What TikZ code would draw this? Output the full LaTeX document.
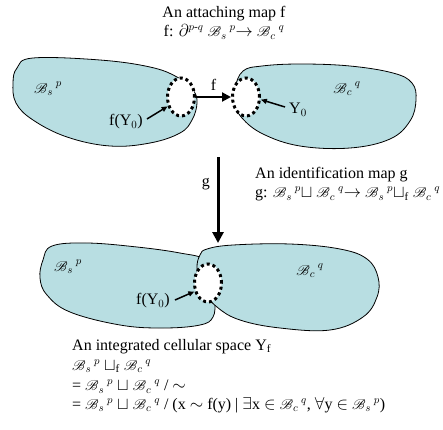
\documentclass[tikz,border=0pt]{standalone}
\usepackage{amsmath, amssymb}
\usepackage{mathrsfs}
\usepackage{graphicx}
\usepackage{fontspec}
\setmainfont{Liberation Serif}
\usepackage{tikz}
\usetikzlibrary{arrows.meta, positioning, shapes.geometric}
\definecolor{CellFill}{HTML}{B8DEE2}
\newcommand{\cB}{\scalebox{0.82}{$\mathscr{B}$}}
\newcommand{\Bsp}{\cB$_s\,{}^p$}
\newcommand{\Bcq}{\cB$_c\,{}^q$}

\begin{document}
\begin{tikzpicture}[
        x=1pt, y=-1pt,
        font=\fontsize{16}{18}\selectfont,
        cell/.style={fill=CellFill, draw=black, line width=0.8pt},
        dotring/.style={ellipse, draw, fill=white, inner sep=0pt, line width=3pt,
          dash pattern=on 3pt off 3pt, minimum width=27pt, minimum height=38pt},
        mapf/.style={-{Triangle[length=9pt, width=9pt]}, line width=2pt},
        mapg/.style={-{Triangle[length=11pt, width=11pt]}, line width=3pt},
        lead/.style={-{Triangle[length=6pt, width=5pt]}, line width=1.5pt},
        lbl/.style={inner sep=0pt, align=left},
      ]
        \useasboundingbox (0,0) rectangle (443,429);
        % ---- attaching map (top) ----
        \node[lbl, align=center] (ttl) at (224,23) {An attaching map f\\[1pt]
          f: $\partial^{p\text{-}q}$ \Bsp$\rightarrow$ \Bcq};
        % ---- B_s^p and B_c^q, apart ----
        \draw[cell] plot[smooth cycle, tension=0.65] coordinates {(33,58) (100,60) (150,67) (177,77)
          (193,90) (197,103) (192,120) (180,133) (150,143) (110,146) (67,137) (33,120) (16,103) (13,83) (17,68)};
        \draw[cell] plot[smooth cycle, tension=0.65] coordinates {(243,71) (262,66) (300,64) (350,66)
          (393,73) (412,83) (416,100) (410,121) (390,139) (350,148) (300,146) (263,134) (242,118)
          (235,103) (235,88)};
        \node[dotring] (ringa) at (181,97) {};
        \node[dotring] (ringb) at (246,97) {};
        \node[lbl] (bsa) at (48,89) {\Bsp};
        \node[lbl] (bca) at (347,89) {\Bcq};
        \draw[mapf] (ringa.east) -- (ringb.west) node[midway, above=2pt] (fa) {f};
        \node[lbl] (fya) at (126,122) {f(Y$_0$)};
        \draw[lead] (fya.east) ++(4,-3) -- (ringa.215);
        \node[lbl] (ya) at (298,110) {Y$_0$};
        \draw[lead] (ya.west) ++(-4,-3) -- (ringb.-10);
        % ---- identification map g ----
        \coordinate (gtop) at (218,157);
        \coordinate (gtip) at (218,243);
        \draw[mapg] (gtop) -- (gtip);
        \node[lbl, left=8pt] (gl) at (218,184) {g};
        \node[lbl, anchor=west] (idm) at (255,184) {An identification map g\\[1pt]
          g: \Bsp$\sqcup$ \Bcq$\rightarrow$ \Bsp$\sqcup_{\text{f}}$ \Bcq};
        % ---- integrated cellular space ----
        \draw[cell] plot[smooth cycle, tension=0.65] coordinates {(52,246) (87,243) (137,247) (180,253)
          (205,260) (214,280) (215,300) (213,317) (200,325) (163,328) (120,325) (70,312) (47,295)
          (40,278) (43,260)};
        \draw[cell] plot[smooth cycle, tension=0.65] coordinates {(207,249) (233,245) (290,244) (340,249)
          (367,259) (378,277) (377,297) (363,317) (330,330) (280,328) (240,320) (217,307) (201,288)
          (197,268) (200,255)};
        \node[dotring] (ringc) at (208,283) {};
        \node[lbl] (bsc) at (68,267) {\Bsp};
        \node[lbl] (bcc) at (310,271) {\Bcq};
        \node[lbl] (fyc) at (153,301) {f(Y$_0$)};
        \draw[lead] (fyc.east) ++(5,-1) -- (ringc.212);
        % ---- text below ----
        \node[lbl, anchor=north west] (ics) at (72,339) {An integrated cellular space Y$_{\text{f}}$\\[2pt]
          \Bsp{} $\sqcup_{\text{f}}$ \Bcq\\[2.5pt]
          = \Bsp{} $\sqcup$ \Bcq{} / $\sim$\\[0.5pt]
          = \Bsp{} $\sqcup$ \Bcq{} / (x $\sim$ f(y) | $\exists$x $\in$ \Bcq, $\forall$y $\in$ \Bsp{})};
      \end{tikzpicture}
\end{document}
